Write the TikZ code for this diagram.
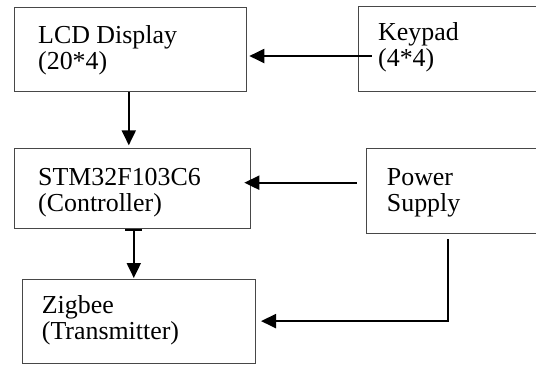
\documentclass[tikz,border=0pt]{standalone}
\usepackage{fontspec}
\setmainfont{Liberation Serif}
\usetikzlibrary{arrows.meta,calc}
\newcommand{\mylines}[2]{\vtop{\hbox{#1}\hbox{#2}}}
\tikzset{
  blockbox/.style={draw=black!72, line width=1bp, rectangle, inner sep=0pt, anchor=north west},
  blocktext/.style={inner sep=0pt, anchor=base west, font=\fontsize{25.9bp}{26.5bp}\selectfont},
  arr/.style={line width=2bp, -{Triangle[length=15bp,width=14bp]}},
}
\begin{document}
\begin{tikzpicture}[x=1bp,y=-1bp]
\useasboundingbox (0,0) rectangle (536,364);
\clip (0,0) rectangle (536,364);
\fill[white] (0,0) rectangle (536,364);
% boxes
\node[blockbox, minimum width=232bp, minimum height=84bp] (lcd) at (14,7) {};
\node[blockbox, minimum width=200bp, minimum height=85bp] (key) at (357.7,5.7) {};
\node[blockbox, minimum width=236bp, minimum height=80bp] (stm) at (14,148.3) {};
\node[blockbox, minimum width=200bp, minimum height=85bp] (pow) at (366,148.3) {};
\node[blockbox, minimum width=233.3bp, minimum height=84bp] (zig) at (21.7,279.3) {};
% texts
\node[blocktext] (lcdt) at (38,43) {\mylines{LCD Display}{(20*4)}};
\node[blocktext] (keyt) at (378,40) {\mylines{Keypad}{(4*4)}};
\node[blocktext] (stmt) at (38,185) {\mylines{STM32F103C6}{(Controller)}};
\node[blocktext] (powt) at (386.7,185) {\mylines{Power}{Supply}};
\node[blocktext] (zigt) at (41.7,313) {\mylines{Zigbee}{(Transmitter)}};
% connectors
\coordinate (k1) at (371.7,56);
\draw[arr] (k1) -- ([xshift=2.3bp]k1 -| lcd.east);
\draw[arr, shorten >=3bp] ([xshift=-1.7bp]lcd.south) -- ([xshift=-1.7bp]lcd.south |- stm.north);
\coordinate (p1) at (356.7,182.7);
\draw[arr] (p1) -- ([xshift=-6.7bp]p1 -| stm.east);
\draw[line width=2bp, {Bar[width=17bp,length=0pt]}-{Triangle[length=15bp,width=14bp]}, shorten >=1.3bp] ([xshift=1.3bp]stm.south) -- ([xshift=1.3bp]stm.south |- zig.north);
\coordinate (p2) at (448,239.3);
\draw[arr] (p2) |- ([xshift=5bp,yshift=0.7bp]zig.east);
\end{tikzpicture}
\end{document}
